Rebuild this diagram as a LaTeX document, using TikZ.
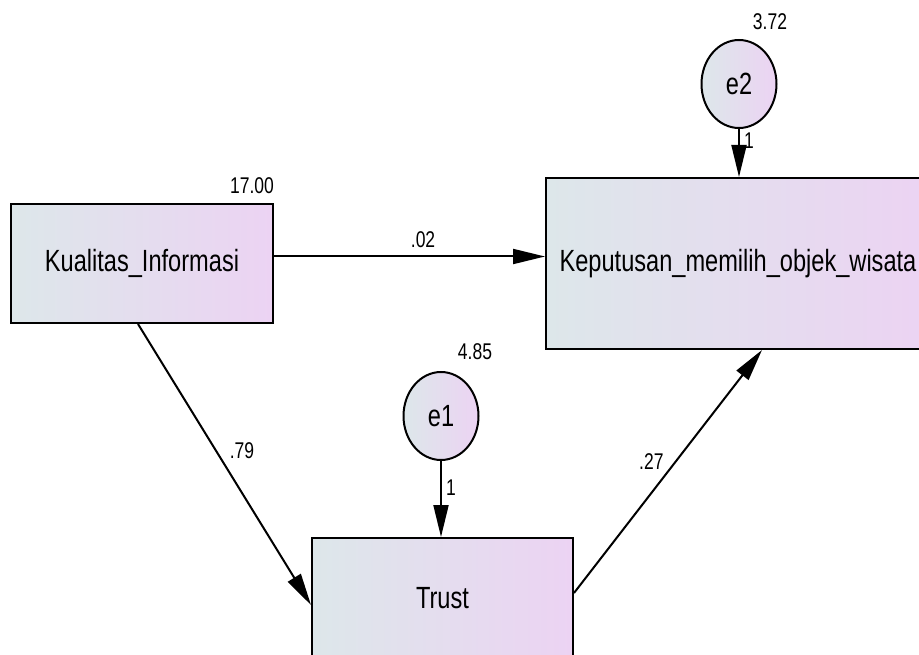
\documentclass[tikz,border=0pt]{standalone}
\usepackage{fontspec}
\setmainfont{Liberation Sans}
\usetikzlibrary{shapes.geometric,arrows.meta}
\definecolor{shadeleft}{RGB}{221,231,234}
\definecolor{shaderight}{RGB}{236,211,243}
\newcommand{\tallish}[1]{\scalebox{1}[1.3]{#1}}

\begin{document}
\begin{tikzpicture}[
  x=1pt, y=-1pt,
  var/.style={rectangle, draw, line width=2pt, left color=shadeleft, right color=shaderight, inner sep=0pt, font=\fontsize{23.6}{26}\selectfont},
  err/.style={ellipse, draw, line width=2pt, left color=shadeleft, right color=shaderight, minimum width=75pt, minimum height=88pt, inner sep=0pt, font=\fontsize{23.6}{26}\selectfont},
  arrow/.style={-{Triangle[length=32pt,width=15pt]}, line width=2pt},
  est/.style={font=\fontsize{17.5}{20}\selectfont, inner sep=1pt},
]

% ══ Frame ══
\useasboundingbox (0,0) rectangle (919,655);
\clip (0,0) rectangle (919,655);

% ══ Observed variables ══
\node[var, minimum width=262pt, minimum height=119pt] (kual) at (142,263.5) {\tallish{Kualitas\_Informasi}};
\node[var, minimum width=384pt, minimum height=171pt] (kep) at (738,263.5) {\tallish{Keputusan\_memilih\_objek\_wisata}};
\node[var, minimum width=261pt, minimum height=120pt] (trust) at (442.5,598) {\tallish{Trust}};

% ══ Error terms ══
\node[err] (e1) at (441,416) {\tallish{e1}};
\node[err] (e2) at (739,84) {\tallish{e2}};

% Variances
\node[est] (vkual) at (252,186) {\tallish{17.00}};
\node[est] (ve1) at (475,352) {\tallish{4.85}};
\node[est] (ve2) at (770,22) {\tallish{3.72}};

% ══ Regression paths ══
\draw[arrow] ([yshift=7pt]kual.east) -- node[est, pos=0.55, above=7pt] {\tallish{.02}} ([yshift=7pt]kep.west);
\draw[arrow] ([xshift=-4pt]kual.south) -- node[est, pos=0.45, right=12pt] {\tallish{.79}} ([yshift=-7pt]trust.west);
\draw[arrow] ([yshift=5pt]trust.east) -- node[est, pos=0.54, left=10pt] {\tallish{.27}} ([xshift=24pt]kep.south);

% Error paths (fixed at 1)
\draw[arrow] (e1.south) -- node[est, pos=0.35, right=3pt] {\tallish{1}} (e1.south |- trust.north);
\draw[arrow] (e2.south) -- node[est, pos=0.24, right=3pt] {\tallish{1}} (e2.south |- kep.north);

\end{tikzpicture}
\end{document}
